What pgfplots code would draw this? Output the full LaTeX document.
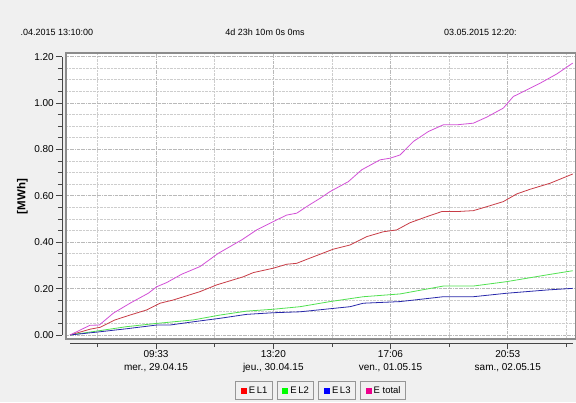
\documentclass[border=0pt]{standalone}
\usepackage{pgfplots}
\pgfplotsset{compat=1.18}
\usepackage{fontspec}
\setmainfont{Liberation Sans}
\definecolor{bg}{RGB}{240,240,240}
\definecolor{framec}{RGB}{140,140,140}
\definecolor{axc}{RGB}{70,70,70}
\definecolor{gridmaj}{RGB}{185,185,185}
\definecolor{gridmin}{RGB}{205,205,205}
\definecolor{cL1}{RGB}{200,60,70}
\definecolor{cL2}{RGB}{80,225,80}
\definecolor{cL3}{RGB}{40,40,170}
\definecolor{cTot}{RGB}{210,80,215}
\definecolor{boxc}{RGB}{150,150,150}
\newcommand{\legbox}[2]{\setlength{\fboxsep}{0pt}\setlength{\fboxrule}{0.8pt}\fcolorbox{boxc}{bg}{\rule[-5.5pt]{0pt}{17pt}\hspace{5pt}\textcolor{#1}{\rule{6pt}{6pt}}\hspace{2pt}#2\hspace{4.5pt}}}
\begin{document}
\begin{tikzpicture}
\useasboundingbox (0pt,0pt) rectangle (576pt,402pt);
\fill[bg] (0pt,0pt) rectangle (576pt,402pt);
\node[anchor=base west,font=\fontsize{9}{11}\selectfont] at (17pt,366pt) {.04.2015 13:10:00};
\node[anchor=base,font=\fontsize{9}{11}\selectfont] at (265pt,366pt) {4d 23h 10m 0s 0ms};
\node[anchor=base west,font=\fontsize{9}{11}\selectfont] at (440.5pt,366pt) {03.05.2015 12:20:};
\node[rotate=90,font=\fontsize{11.5}{13}\selectfont\bfseries] at (22.5pt,205.3pt) {[MWh]};
\begin{axis}[
  at={(66pt,63pt)}, anchor=south west, scale only axis,
  width=510pt, height=286pt,
  xmin=-0.95, xmax=119.9, ymin=-0.01724, ymax=1.2155,
  axis background/.style={fill=white},
  axis line style={draw=framec, line width=1.5pt},
  xtick={20.383,48.167,75.933,103.717},
  minor xtick={6.5,34.28,62.05,89.83,117.6},
  ytick={0,0.2,0.4,0.6,0.8,1.0,1.2},
  minor ytick={0.05,0.1,0.15,0.25,0.3,0.35,0.45,0.5,0.55,0.65,0.7,0.75,0.85,0.9,0.95,1.05,1.1,1.15},
  xticklabels={}, yticklabels={},
  major tick length=0pt, minor tick length=0pt,
  grid=both,
  major grid style={draw=gridmaj, densely dashdotted, line width=0.7pt},
  minor grid style={draw=gridmin, densely dotted, line width=0.7pt},
  legend columns=4,
  legend image code/.code={},
  legend style={at={(0.499,-0.172)}, anchor=center, draw=none, fill=none,
    font=\fontsize{9.5}{11}\selectfont,
    /tikz/every odd column/.style={column sep=0pt},
    /tikz/every even column/.style={column sep=4pt},
    nodes={inner sep=0pt}},
  every axis plot/.append style={line width=0.8pt},
]
\addplot[cL1] coordinates {
(0,0) (4.74,0.025) (7.11,0.033) (10.66,0.065) (14.22,0.086) (18.18,0.108) (21.33,0.137) (24.48,0.151) (30.81,0.187) (34.76,0.216) (41.07,0.251) (43.44,0.269) (48.18,0.288) (51.35,0.305) (53.72,0.309) (56.09,0.326) (59.24,0.348) (62.39,0.370) (66.35,0.388) (70.31,0.424) (74.24,0.445) (77.42,0.453) (80.57,0.484) (84.53,0.510) (88.08,0.532) (91.64,0.532) (95.57,0.536) (98.74,0.553) (102.68,0.575) (105.85,0.608) (109.00,0.628) (113.74,0.654) (119.12,0.694)};
\addlegendentry{\legbox{red}{E\,L1}}
\addplot[cL2] coordinates {
(0,0) (7.11,0.019) (13.44,0.036) (20.55,0.050) (29.22,0.065) (35.55,0.086) (41.87,0.103) (48.18,0.111) (54.50,0.122) (61.61,0.144) (69.50,0.165) (78.20,0.177) (88.46,0.211) (95.57,0.211) (103.48,0.230) (112.96,0.259) (119.12,0.277)};
\addlegendentry{\legbox{green}{E\,L2}}
\addplot[cL3] coordinates {
(0,0) (7.11,0.014) (13.44,0.027) (20.55,0.043) (23.70,0.043) (29.22,0.057) (35.55,0.072) (41.87,0.089) (48.18,0.096) (54.50,0.100) (66.35,0.122) (69.50,0.137) (78.20,0.144) (88.46,0.165) (95.57,0.165) (103.48,0.180) (112.96,0.194) (119.12,0.201)};
\addlegendentry{\legbox{blue}{E\,L3}}
\addplot[cTot] coordinates {
(0,0) (4.74,0.042) (6.94,0.043) (10.26,0.094) (14.22,0.137) (18.55,0.180) (20.55,0.208) (22.91,0.226) (26.47,0.262) (30.81,0.295) (35.14,0.352) (40.69,0.410) (44.24,0.453) (48.18,0.489) (51.35,0.517) (53.72,0.525) (56.47,0.558) (59.24,0.589) (61.61,0.618) (65.95,0.661) (69.12,0.712) (73.46,0.755) (75.83,0.762) (78.20,0.776) (81.35,0.834) (84.91,0.877) (88.46,0.906) (91.64,0.906) (95.57,0.913) (98.74,0.939) (102.68,0.978) (105.05,1.028) (107.42,1.049) (111.37,1.085) (115.33,1.125) (119.12,1.172)};
\addlegendentry{\legbox{magenta}{E total}}
\end{axis}
\begin{axis}[
  at={(70pt,67pt)}, anchor=south west, scale only axis,
  width=503pt, height=278.3pt,
  xmin=0, xmax=119.17, ymin=0, ymax=1.2,
  axis x line*=bottom, axis y line*=left,
  axis x line shift=8pt, axis y line shift=8pt,
  x axis line style={-, draw=axc, line width=0.8pt},
  y axis line style={-, draw=axc, line width=0.8pt},
  tick style={draw=axc, line width=0.8pt},
  tick align=outside,
  major tick length=6pt, minor tick length=4pt,
  xtick={20.383,48.167,75.933,103.717},
  minor xtick={6.5,34.28,62.05,89.83,117.6},
  xticklabels={{09:33\\mer., 29.04.15},{13:20\\jeu., 30.04.15},{17:06\\ven., 01.05.15},{20:53\\sam., 02.05.15}},
  xticklabel style={align=center, font=\fontsize{10}{13.3}\selectfont, inner sep=1pt},
  ytick={0,0.2,0.4,0.6,0.8,1.0,1.2},
  minor ytick={0.05,0.1,0.15,0.25,0.3,0.35,0.45,0.5,0.55,0.65,0.7,0.75,0.85,0.9,0.95,1.05,1.1,1.15},
  /pgf/number format/assume math mode=true,
  yticklabel style={font=\fontsize{10}{12}\selectfont, /pgf/number format/fixed, /pgf/number format/fixed zerofill, /pgf/number format/precision=2, inner sep=2pt},
]
\end{axis}
\end{tikzpicture}
\end{document}
